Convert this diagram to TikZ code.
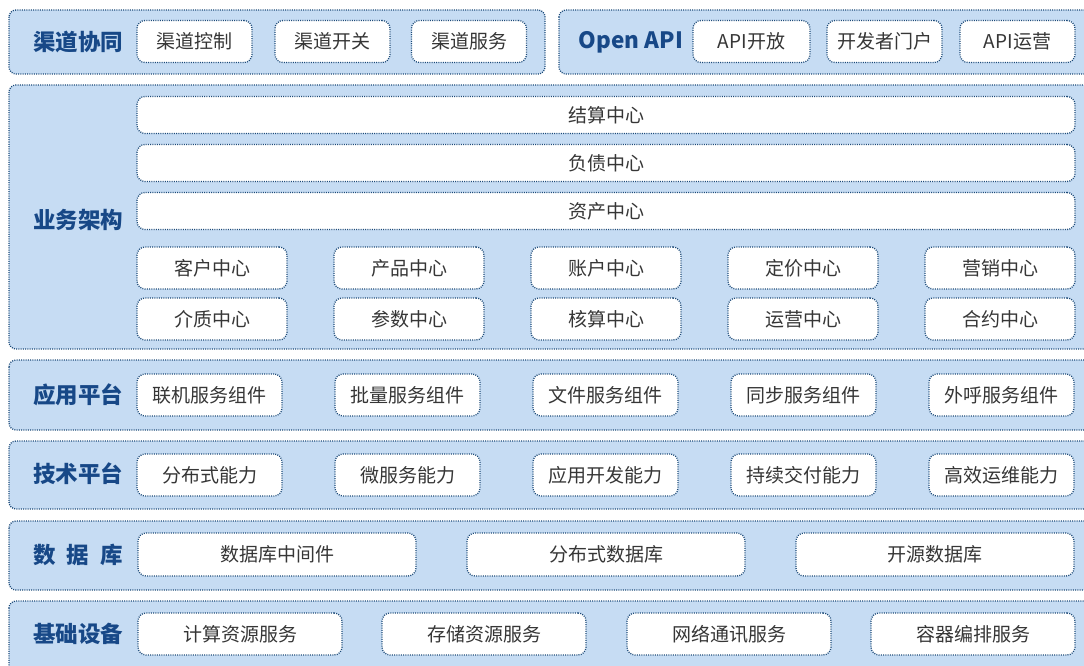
\documentclass[tikz,border=0pt]{standalone}
\usepackage{fontspec}
\setmainfont{Noto Sans CJK SC}
\definecolor{pfill}{HTML}{C6DCF3}
\definecolor{bdr}{HTML}{1C4A78}
\definecolor{labc}{HTML}{174887}
\definecolor{txt}{HTML}{363636}
\begin{document}
\begin{tikzpicture}[x=1pt,y=-1pt,
  panel/.style={fill=pfill, draw=bdr, line width=1.3pt, dash pattern=on 1pt off 1.25pt, rounded corners=7pt},
  box/.style={fill=white, draw=bdr, line width=1.3pt, dash pattern=on 1pt off 1.25pt, rounded corners=8pt,
    font=\fontsize{19}{21}\selectfont, text=txt, inner sep=0pt, minimum height=42pt},
  lab/.style={font=\bfseries\fontsize{22.5}{25}\selectfont, text=labc, inner sep=0pt},
  w1/.style={box, minimum width=115pt},
  wbar/.style={box, minimum width=938pt, minimum height=37pt},
  wc/.style={box, minimum width=150pt},
  wa/.style={box, minimum width=145pt},
  wd/.style={box, minimum width=278pt, minimum height=43pt},
  wi/.style={box, minimum width=204pt}]
\useasboundingbox (0,0) rectangle (1084,666);
\clip (0,0) rectangle (1084,666);
% panels
\path[panel] (9,10) rectangle (545,74);
\path[panel] (559,10) rectangle (1100,74);
\path[panel] (9,85) rectangle (1100,349);
\path[panel] (9,360) rectangle (1100,430);
\path[panel] (9,441) rectangle (1100,509);
\path[panel] (9,521) rectangle (1100,590);
\path[panel] (9,601) rectangle (1100,700);
% labels
\node[lab] (l1) at (78,42) {渠道协同};
\node[lab] (l2) at (631,42) {Open API};
\node[lab] (l3) at (78,220) {业务架构};
\node[lab] (l4) at (78,395) {应用平台};
\node[lab] (l5) at (78,474) {技术平台};
\node[lab] (l6) at (78,555) {数\hskip0.5em 据\hskip0.5em 库};
\node[lab] (l7) at (78,634) {基础设备};
% top row
\node[w1] (c1) at (194.5,41.5) {渠道控制};
\node[w1] (c2) at (332.5,41.5) {渠道开关};
\node[w1] (c3) at (469,41.5) {渠道服务};
\node[w1, minimum width=117pt] (o1) at (751.5,41.5) {API开放};
\node[w1] (o2) at (884.5,41.5) {开发者门户};
\node[w1] (o3) at (1017.5,41.5) {API运营};
% business
\node[wbar] (b1) at (606,115) {结算中心};
\node[wbar] (b2) at (606,163) {负债中心};
\node[wbar] (b3) at (606,211) {资产中心};
\node[wc] (k1) at (212,268) {客户中心};
\node[wc] (k2) at (409,268) {产品中心};
\node[wc] (k3) at (606,268) {账户中心};
\node[wc] (k4) at (803,268) {定价中心};
\node[wc] (k5) at (1000,268) {营销中心};
\node[wc] (m1) at (212,319) {介质中心};
\node[wc] (m2) at (409,319) {参数中心};
\node[wc] (m3) at (606,319) {核算中心};
\node[wc] (m4) at (803,319) {运营中心};
\node[wc] (m5) at (1000,319) {合约中心};
% application platform
\node[wa] (a1) at (209.5,395) {联机服务组件};
\node[wa] (a2) at (407.5,395) {批量服务组件};
\node[wa] (a3) at (605.5,395) {文件服务组件};
\node[wa] (a4) at (803.5,395) {同步服务组件};
\node[wa] (a5) at (1001.5,395) {外呼服务组件};
% tech platform
\node[wa] (t1) at (209.5,475) {分布式能力};
\node[wa] (t2) at (407.5,475) {微服务能力};
\node[wa] (t3) at (605.5,475) {应用开发能力};
\node[wa] (t4) at (803.5,475) {持续交付能力};
\node[wa] (t5) at (1001.5,475) {高效运维能力};
% database
\node[wd] (d1) at (277,554.5) {数据库中间件};
\node[wd] (d2) at (606,554.5) {分布式数据库};
\node[wd] (d3) at (935,554.5) {开源数据库};
% infrastructure
\node[wi] (i1) at (240,634) {计算资源服务};
\node[wi] (i2) at (484,634) {存储资源服务};
\node[wi] (i3) at (729,634) {网络通讯服务};
\node[wi] (i4) at (973,634) {容器编排服务};
\end{tikzpicture}
\end{document}
